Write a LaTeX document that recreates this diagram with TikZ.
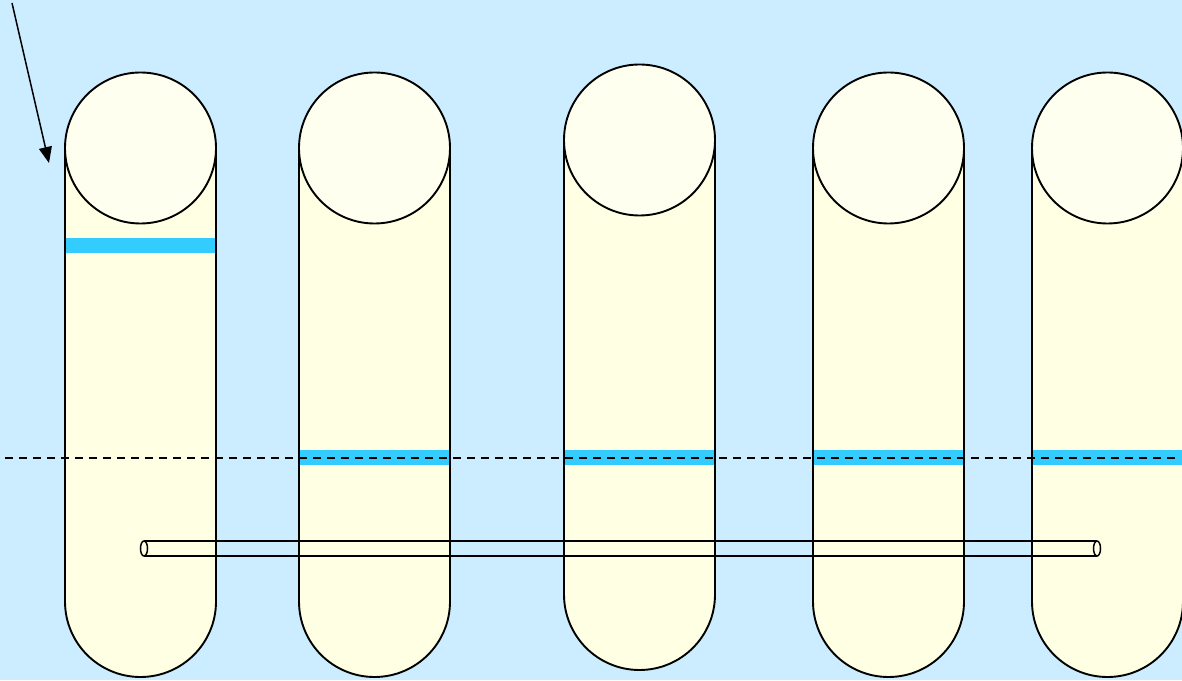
\documentclass[tikz,border=0pt]{standalone}
\usetikzlibrary{arrows.meta}
\definecolor{bgblue}{HTML}{CCECFF}
\definecolor{tubefill}{HTML}{FFFFE3}
\definecolor{capfill}{HTML}{FFFFEF}
\definecolor{barblue}{HTML}{33CCFF}
\tikzset{
  outline/.style={draw=black, line width=1.9pt},
  bar/.style={barblue, line width=15pt},
  dashline/.style={black, line width=1.5pt, dash pattern=on 8pt off 6pt},
  pipe/.style={black, line width=1.5pt},
}
\newcommand{\tube}[4]{% cx, capy, bottomarc y, bar y
  \fill[tubefill] (#1-75.5,#2) -- (#1-75.5,#3) arc[start angle=180,end angle=360,radius=75.5] -- (#1+75.5,#2) -- cycle;
  \draw[bar] (#1-75,#4) -- (#1+75,#4);
  \draw[outline] (#1-75.5,#2) -- (#1-75.5,#3) arc[start angle=180,end angle=360,radius=75.5] -- (#1+75.5,#2);
  \draw[outline, fill=capfill] (#1,#2) circle[radius=75.5];
}
\begin{document}
\begin{tikzpicture}[x=1pt,y=1pt]
\useasboundingbox (0,0) rectangle (1182,680);
\fill[bgblue] (0,0) rectangle (1182,680);
\tube{140.5}{532}{78.5}{434}
\tube{374.5}{532}{78.5}{222}
\tube{639.5}{540}{85.5}{222}
\tube{888.5}{532}{78.5}{222}
\tube{1107.5}{532}{78.5}{222}
\coordinate (dl) at (5,222);
\coordinate (dr) at (1180,222);
\draw[dashline] (dl) -- (dr);
\coordinate (pl) at (144,131.5);
\coordinate (pr) at (1097,131.5);
\draw[pipe] ([yshift=7.5pt]pl) -- ([yshift=7.5pt]pr);
\draw[pipe] ([yshift=-7.5pt]pl) -- ([yshift=-7.5pt]pr);
\draw[pipe, fill=tubefill] (pl) ellipse[x radius=3.5, y radius=7.5];
\draw[pipe, fill=tubefill] (pr) ellipse[x radius=3.5, y radius=7.5];
\coordinate (as) at (12,677);
\coordinate (ae) at (49,517);
\draw[black, line width=1.5pt, -{Triangle[length=16pt,width=13pt]}] (as) -- (ae);
\end{tikzpicture}
\end{document}
